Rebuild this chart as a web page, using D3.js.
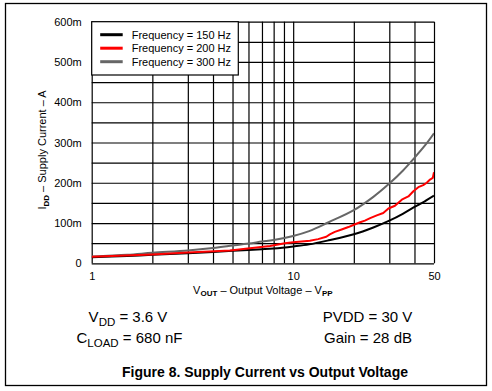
<!DOCTYPE html>
<html lang="en">
<head>
<meta charset="utf-8">
<title>supply current vs output voltage</title>
<script src="https://d3js.org/d3.v7.min.js"></script>
<style>
  body{margin:0;background:#fff;font-family:"Liberation Sans",Arial,sans-serif;}
  .grid line{stroke:#000;stroke-width:1.2;}
  .grid path{display:none;}
  .lab path,.lab line{display:none;}
  .lab text{font-family:"Liberation Sans",Arial,sans-serif;font-size:11px;fill:#000;}
</style>
</head>
<body>
<div id="chart"></div>
<script>
// x values (Vout, Vpp) and currents in mA
var xSmooth = [1, 1.5, 2, 3, 4, 5, 6, 7, 8, 10, 12, 15, 20, 25, 30, 35, 40, 45, 50]
var i150 = [15, 18, 21, 25, 28, 31, 33, 35, 37, 42, 47, 57, 72, 89, 106, 123, 140, 154, 168]
var i300 = [17, 21, 26, 32, 38, 44, 49, 54, 58, 68, 80, 102, 132, 165, 198, 230, 262, 292, 323]
// 200 Hz trace is noisy, so it has its own x list
var x200 = [1, 2, 3, 4.86, 6.1, 7.67, 9.1, 10, 12.1, 13.3, 14.6, 15.2, 16.1, 17.4, 18.8, 20.3, 21.5,
            22.7, 24.1, 26, 28, 29.7, 32, 34.6, 37.3, 39.5, 41.8, 44.2, 46, 47.8, 49.3, 50]
var i200 = [16, 22, 27, 32, 37.5, 43, 50, 52, 56, 60, 66, 72, 78, 84, 90, 97, 102,
            106, 112, 119, 125, 136, 143, 158, 166, 179, 189, 194, 200, 208, 212, 226]

var seriesNames = ["Frequency = 150 Hz", "Frequency = 200 Hz", "Frequency = 300 Hz"]
var yTicks = [0, 100, 200, 300, 400, 500, 600]
var yTickLabels = ["0", "100m", "200m", "300m", "400m", "500m", "600m"]
var xTicks = [1, 10, 50]

var W = 492, H = 391
// plot box (window.top is read-only, so prefixed names)
var pL = 91.7, pT = 21.7, pR = 434, pB = 263.3
var colors = ["#000000", "#ff0000", "#666666"]

var svg = d3.select("#chart").append("svg").attr("width", W).attr("height", H)

// outer frame
svg.append("rect").attr("x", 5.5).attr("y", 3.5).attr("width", 481).attr("height", 382)
    .attr("fill", "none").attr("stroke", "#000").attr("stroke-width", 1.3)

var xScale = d3.scaleLog().domain([1, 50]).range([pL, pR])
var yScale = d3.scaleLinear().domain([0, 600]).range([pB, pT])

// grid lines
svg.append("g").attr("class", "grid")
    .attr("transform", "translate(0," + pB + ")")
    .call(d3.axisBottom(xScale).tickValues([1,2,3,4,5,6,7,8,9,10,20,30,40,50])
        .tickSize(-(pB - pT)).tickFormat(""))
svg.append("g").attr("class", "grid")
    .attr("transform", "translate(" + pL + ",0)")
    .call(d3.axisLeft(yScale).tickValues(d3.range(0, 601, 50))
        .tickSize(-(pR - pL)).tickFormat(""))

// tick labels
svg.append("g").attr("class", "lab")
    .attr("transform", "translate(" + (pL - 7) + ",0)")
    .call(d3.axisLeft(yScale).tickValues(yTicks).tickSize(0)
        .tickFormat(function(d, i){ return yTickLabels[i] }))
svg.append("g").attr("class", "lab")
    .attr("transform", "translate(0," + (pB + 6) + ")")
    .call(d3.axisBottom(xScale).tickValues(xTicks).tickSize(0)
        .tickFormat(function(d){ return d }))

var smooth = d3.line().curve(d3.curveCatmullRom)
    .x(function(d){ return xScale(d[0]) }).y(function(d){ return yScale(d[1]) })
var jagged = d3.line()
    .x(function(d){ return xScale(d[0]) }).y(function(d){ return yScale(d[1]) })
var curves = [
    d3.zip(xSmooth, i150),
    d3.zip(x200, i200),
    d3.zip(xSmooth, i300)
]
svg.append("clipPath").attr("id", "pc").append("rect")
    .attr("x", pL).attr("y", pT).attr("width", pR - pL).attr("height", pB - pT)
// draw 300, 150 then 200 on top
var order = [2, 0, 1]
order.forEach(function(k){
    svg.append("path")
        .attr("clip-path", "url(#pc)")
        .attr("d", k == 1 ? jagged(curves[k]) : smooth(curves[k]))
        .attr("fill", "none").attr("stroke", colors[k]).attr("stroke-width", 2)
        .attr("stroke-linejoin", "round")
})

// legend
var lg = svg.append("g")
lg.append("rect").attr("x", pL).attr("y", pT).attr("width", 146.6).attr("height", 53.3)
    .attr("fill", "#fff").attr("stroke", "#000").attr("stroke-width", 1.2)
seriesNames.forEach(function(n, i){
    var yy = pT + 13 + i * 13.5
    lg.append("line").attr("x1", pL + 8.5).attr("x2", pL + 31).attr("y1", yy).attr("y2", yy)
        .attr("stroke", colors[i]).attr("stroke-width", 3)
    lg.append("text").attr("x", pL + 40).attr("y", yy + 4).attr("font-size", 11).text(n)
})

// axis titles
var yt = svg.append("text").attr("transform", "translate(45.5,150) rotate(-90)")
    .attr("text-anchor", "middle").attr("font-size", 11)
yt.append("tspan").text("I")
yt.append("tspan").attr("dy", 3).attr("font-size", 8).attr("font-weight", "bold").text("DD")
yt.append("tspan").attr("dy", -3).text(" \u2013 Supply Current \u2013 A")

var xt = svg.append("text").attr("x", (pL + pR) / 2).attr("y", 294)
    .attr("text-anchor", "middle").attr("font-size", 11)
xt.append("tspan").text("V")
xt.append("tspan").attr("dy", 2).attr("font-size", 8).attr("font-weight", "bold").text("OUT")
xt.append("tspan").attr("dy", -2).text(" \u2013 Output Voltage \u2013 V")
xt.append("tspan").attr("dy", 2).attr("font-size", 8).attr("font-weight", "bold").text("PP")

// conditions
function cond(x, y, main, sub, rest){
    var t = svg.append("text").attr("x", x).attr("y", y).attr("text-anchor", "middle").attr("font-size", 15)
    t.append("tspan").text(main)
    if (sub) t.append("tspan").attr("dy", 4).attr("font-size", 11.5).text(sub)
    t.append("tspan").attr("dy", sub ? -4 : 0).text(rest)
}
cond(128, 321.5, "V", "DD", " = 3.6 V")
cond(129.5, 343, "C", "LOAD", " = 680 nF")
cond(367.5, 321.5, "PVDD = 30 V", null, "")
cond(368, 343, "Gain = 28 dB", null, "")

svg.append("text").attr("x", 265).attr("y", 376.5).attr("text-anchor", "middle")
    .attr("font-size", 14).attr("font-weight", "bold")
    .text("Figure 8. Supply Current vs Output Voltage")
</script>
</body>
</html>
